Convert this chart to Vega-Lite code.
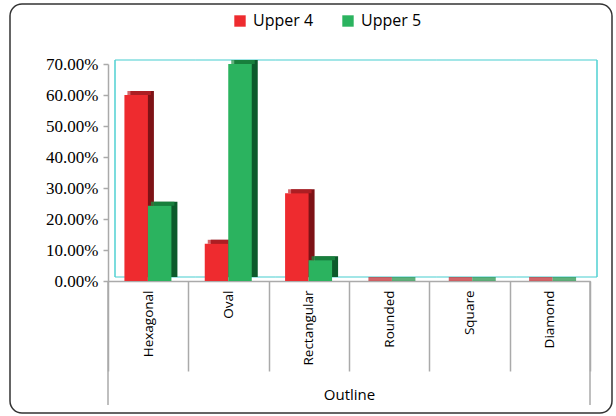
{
  "$schema": "https://vega.github.io/schema/vega-lite/v6.json",
  "width": 602,
  "height": 409,
  "autosize": "none",
  "padding": {"left": 10, "top": 4, "right": 4, "bottom": 3},
  "background": "#ffffff",
  "config": {
    "view": {"stroke": "#333333", "strokeWidth": 1.5, "cornerRadius": 12, "fill": "#ffffff"},
    "axisX": {
      "offset": -132,
      "labelAngle": -90,
      "labelAlign": "right",
      "labelBaseline": "middle",
      "tickBand": "extent",
      "tickSize": 90,
      "tickWidth": 1.5,
      "tickColor": "#aaaaaa",
      "domainColor": "#aaaaaa",
      "domainWidth": 1.5,
      "labelPadding": -81,
      "labelFont": "Open Sans",
      "labelFontSize": 13.5,
      "labelColor": "#000000",
      "titleFont": "Open Sans",
      "titleFontSize": 15,
      "titleFontWeight": "normal",
      "titleColor": "#000000",
      "titlePadding": 16,
      "grid": false
    },
    "axisY": {
      "offset": -98,
      "grid": false,
      "tickSize": 5,
      "tickWidth": 1.5,
      "tickColor": "#aaaaaa",
      "domainColor": "#aaaaaa",
      "domainWidth": 1.5,
      "labelFont": "Liberation Serif",
      "labelFontSize": 17,
      "labelColor": "#000000",
      "labelPadding": 5
    }
  },
  "data": {
    "values": [
      {"outline": "Hexagonal", "series": "Upper 4", "value": 0.60},
      {"outline": "Hexagonal", "series": "Upper 5", "value": 0.243},
      {"outline": "Oval", "series": "Upper 4", "value": 0.12},
      {"outline": "Oval", "series": "Upper 5", "value": 0.70},
      {"outline": "Rectangular", "series": "Upper 4", "value": 0.283},
      {"outline": "Rectangular", "series": "Upper 5", "value": 0.067},
      {"outline": "Rounded", "series": "Upper 4", "value": 0},
      {"outline": "Rounded", "series": "Upper 5", "value": 0},
      {"outline": "Square", "series": "Upper 4", "value": 0},
      {"outline": "Square", "series": "Upper 5", "value": 0},
      {"outline": "Diamond", "series": "Upper 4", "value": 0},
      {"outline": "Diamond", "series": "Upper 5", "value": 0}
    ]
  },
  "encoding": {
    "x": {
      "field": "outline",
      "type": "nominal",
      "sort": null,
      "scale": {
        "domain": ["Hexagonal", "Oval", "Rectangular", "Rounded", "Square", "Diamond"],
        "range": [98, 580],
        "paddingInner": 0,
        "paddingOuter": 0
      },
      "axis": {"orient": "bottom", "title": "Outline"}
    },
    "y": {
      "field": "value",
      "type": "quantitative",
      "scale": {"domain": [0, 0.7], "range": [277, 60], "nice": false},
      "axis": {
        "orient": "left",
        "format": ".2%",
        "values": [0, 0.1, 0.2, 0.3, 0.4, 0.5, 0.6, 0.7],
        "title": null
      }
    }
  },
  "layer": [
    {
      "transform": [{"filter": "datum.series == 'Upper 4'"}],
      "mark": {"type": "tick", "size": 80.4, "thickness": 1.5, "color": "#4fd0d2", "xOffset": 7, "yOffset": -4},
      "encoding": {"y": {"datum": 0.7, "type": "quantitative"}}
    },
    {
      "transform": [{"filter": "datum.series == 'Upper 4'"}],
      "mark": {"type": "tick", "size": 80.4, "thickness": 1.5, "color": "#4fd0d2", "xOffset": 7, "yOffset": -4},
      "encoding": {"y": {"datum": 0, "type": "quantitative"}}
    },
    {
      "transform": [{"filter": "datum.series == 'Upper 4' && datum.outline == 'Hexagonal'"}],
      "mark": {"type": "rule", "stroke": "#4fd0d2", "strokeWidth": 1.5, "xOffset": 7, "yOffset": -4, "y2Offset": -4},
      "encoding": {
        "x": {"field": "outline", "type": "nominal", "bandPosition": 0},
        "y": {"datum": 0, "type": "quantitative"},
        "y2": {"datum": 0.7}
      }
    },
    {
      "transform": [{"filter": "datum.series == 'Upper 4' && datum.outline == 'Diamond'"}],
      "mark": {"type": "rule", "stroke": "#4fd0d2", "strokeWidth": 1.5, "xOffset": 7, "yOffset": -4, "y2Offset": -4},
      "encoding": {
        "x": {"field": "outline", "type": "nominal", "bandPosition": 1},
        "y": {"datum": 0, "type": "quantitative"},
        "y2": {"datum": 0.7}
      }
    },
    {
      "transform": [{"filter": "datum.series == 'Upper 4' && datum.outline == 'Hexagonal'"}],
      "mark": {"type": "rule", "stroke": "#aaaaaa", "strokeWidth": 1.5},
      "encoding": {
        "x": {"field": "outline", "type": "nominal", "bandPosition": 0},
        "y": {"datum": 0, "type": "quantitative"},
        "y2": {"datum": -0.4}
      }
    },
    {
      "transform": [{"filter": "datum.series == 'Upper 4' && datum.outline == 'Diamond'"}],
      "mark": {"type": "rule", "stroke": "#aaaaaa", "strokeWidth": 1.5},
      "encoding": {
        "x": {"field": "outline", "type": "nominal", "bandPosition": 1},
        "y": {"datum": 0, "type": "quantitative"},
        "y2": {"datum": -0.4}
      }
    },
    {
      "transform": [{"filter": "datum.series == 'Upper 4'"}],
      "mark": {"type": "bar", "width": 23.5, "color": "#7e1216", "xOffset": -6, "yOffset": -4, "y2Offset": -4}
    },
    {
      "transform": [{"filter": "datum.series == 'Upper 5'"}],
      "mark": {"type": "bar", "width": 23.5, "color": "#0c5a2b", "xOffset": 17.5, "yOffset": -4, "y2Offset": -4}
    },
    {
      "transform": [{"filter": "datum.series == 'Upper 4'"}],
      "mark": {"type": "tick", "size": 23.5, "thickness": 4, "color": "#c0232a", "xOffset": -9, "yOffset": -2}
    },
    {
      "transform": [{"filter": "datum.series == 'Upper 5'"}],
      "mark": {"type": "tick", "size": 23.5, "thickness": 4, "color": "#1e8f45", "xOffset": 14.5, "yOffset": -2}
    },
    {
      "transform": [{"filter": "datum.series == 'Upper 4'"}],
      "mark": {"type": "bar", "width": 23.5, "xOffset": -12},
      "encoding": {
        "color": {
          "field": "series",
          "type": "nominal",
          "scale": {"domain": ["Upper 4", "Upper 5"], "range": ["#ee2b2f", "#2bb35f"]},
          "legend": {
            "orient": "none",
            "direction": "horizontal",
            "legendX": 222,
            "legendY": 9,
            "title": null,
            "symbolType": "square",
            "symbolSize": 130,
            "symbolStrokeWidth": 0,
            "labelFont": "Open Sans",
            "labelFontSize": 16,
            "labelColor": "#000000",
            "labelOffset": 5,
            "columnPadding": 26
          }
        }
      }
    },
    {
      "transform": [{"filter": "datum.series == 'Upper 5'"}],
      "mark": {"type": "bar", "width": 23.5, "xOffset": 11.5},
      "encoding": {
        "color": {"field": "series", "type": "nominal"}
      }
    }
  ]
}
